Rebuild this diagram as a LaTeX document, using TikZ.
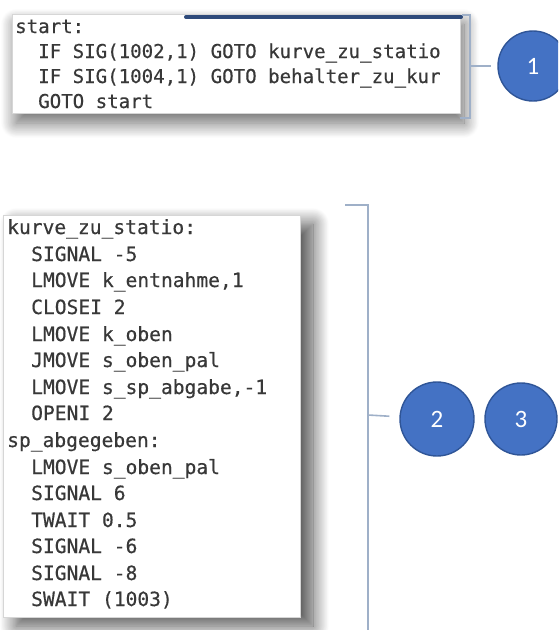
\documentclass[tikz,border=0pt]{standalone}
\usepackage{fontspec}
\newfontfamily\codefont[FakeBold=0.45]{DejaVu Sans Mono}
\setsansfont{Carlito}
\usetikzlibrary{shadows.blur}

\definecolor{codetext}{HTML}{383838}
\definecolor{boxedge}{HTML}{D6D6D6}
\definecolor{barblue}{HTML}{2E4A7A}
\definecolor{bracketc}{HTML}{9FB0C8}
\definecolor{badgefill}{HTML}{4472C4}
\definecolor{badgeedge}{HTML}{2F5597}

\tikzset{
  codebox/.style={fill=white, draw=boxedge, line width=0.6pt},
  codeA/.style={anchor=base west, inner sep=0pt, text=codetext,
    font=\fontsize{19.1}{25}\selectfont\codefont},
  codeB/.style={anchor=base west, inner sep=0pt, text=codetext,
    font=\fontsize{19.6}{26.6}\selectfont\codefont},
  bracket/.style={draw=bracketc, line width=1.6pt},
  badge/.style={circle, fill=badgefill, draw=badgeedge, line width=1.4pt,
    text=white, font=\fontsize{25}{25}\selectfont\sffamily, inner sep=0pt}
}

\begin{document}
\begin{tikzpicture}[x=1pt,y=1pt]
\useasboundingbox (0,0) rectangle (558,-630);
\clip (0,0) rectangle (558,-630);

% upper listing: dispatcher loop
\path[codebox, blur shadow={shadow xshift=4pt, shadow yshift=-10pt,
  shadow blur radius=15pt, shadow blur steps=24, shadow opacity=60}]
  (12,-14) rectangle (460,-113);
\draw[barblue, line width=4pt, line cap=round] (186,-17) -- (461,-17);

\node[codeA] (a0) at (15,-33)   {start:};
\node[codeA] (a1) at (38,-58)   {IF SIG(1002,1) GOTO kurve\_zu\_statio};
\node[codeA] (a2) at (38,-83)   {IF SIG(1004,1) GOTO behalter\_zu\_kur};
\node[codeA] (a3) at (38,-108)  {GOTO start};

% lower listing: transfer routine
\path[codebox, blur shadow={shadow xshift=13pt, shadow yshift=-9pt,
  shadow blur radius=16pt, shadow blur steps=24, shadow opacity=70}]
  (3,-215) rectangle (300,-617);

\node[codeB] (b0)  at (7,-234)    {kurve\_zu\_statio:};
\node[codeB] (b1)  at (31,-261)   {SIGNAL -5};
\node[codeB] (b2)  at (31,-287)   {LMOVE k\_entnahme,1};
\node[codeB] (b3)  at (31,-314)   {CLOSEI 2};
\node[codeB] (b4)  at (31,-341)   {LMOVE k\_oben};
\node[codeB] (b5)  at (31,-367)   {JMOVE s\_oben\_pal};
\node[codeB] (b6)  at (31,-394)   {LMOVE s\_sp\_abgabe,-1};
\node[codeB] (b7)  at (31,-420)   {OPENI 2};
\node[codeB] (b8)  at (7,-447)    {sp\_abgegeben:};
\node[codeB] (b9)  at (31,-474)   {LMOVE s\_oben\_pal};
\node[codeB] (b10) at (31,-500)   {SIGNAL 6};
\node[codeB] (b11) at (31,-527)   {TWAIT 0.5};
\node[codeB] (b12) at (31,-553)   {SIGNAL -6};
\node[codeB] (b13) at (31,-580)   {SIGNAL -8};
\node[codeB] (b14) at (31,-606)   {SWAIT (1003)};

% numbered badges
\node[badge, minimum size=70pt] (c1) at (533,-66)  {1};
\node[badge, minimum size=74pt] (c2) at (437,-419) {2};
\node[badge, minimum size=72pt] (c3) at (521,-419) {3};

% brackets with their ticks
\draw[bracket] (462,-15) -- (470,-15) -- (470,-118) -- (460,-118);
\coordinate (k1) at (470,-66);
\draw[bracket, shorten >=6pt] (k1) -- (c1);

\draw[bracket] (345,-205) -- (368,-205) -- (368,-640);
\coordinate (k2) at (368,-415);
\draw[bracket, shorten >=10pt] (k2) -- (c2);
\end{tikzpicture}
\end{document}
